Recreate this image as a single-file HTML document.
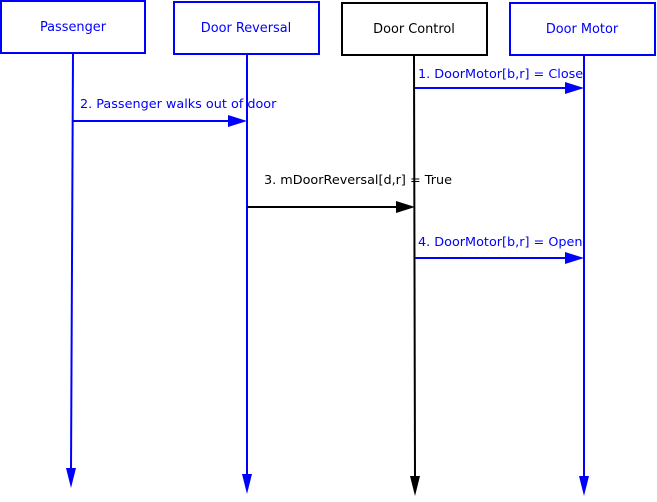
<!DOCTYPE html>
<html><head><style>body{margin:0;background:#fff}</style></head><body>
<svg width="657" height="497" xmlns="http://www.w3.org/2000/svg" font-family="DejaVu Sans, sans-serif">
<g fill="none" stroke-width="2">
<rect x="1" y="1" width="144" height="52" stroke="#0000ff"/>
<rect x="174" y="2" width="145" height="52" stroke="#0000ff"/>
<rect x="342" y="3" width="145" height="52" stroke="#000"/>
<rect x="510" y="3" width="145" height="52" stroke="#0000ff"/>
<line x1="73" y1="54" x2="71" y2="470" stroke="#0000ff"/>
<line x1="247" y1="55" x2="247" y2="476" stroke="#0000ff"/>
<line x1="414" y1="56" x2="415" y2="478" stroke="#000"/>
<line x1="584" y1="56" x2="584" y2="478" stroke="#0000ff"/>
<line x1="415" y1="88" x2="566" y2="88" stroke="#0000ff"/>
<line x1="73" y1="121" x2="230" y2="121" stroke="#0000ff"/>
<line x1="247" y1="207" x2="398" y2="207" stroke="#000"/>
<line x1="415" y1="258" x2="566" y2="258" stroke="#0000ff"/>
</g>
<g stroke="none">
<polygon points="66,468 76,468 71,488" fill="#0000ff"/>
<polygon points="242,474 252,474 247,494" fill="#0000ff"/>
<polygon points="410,476 420,476 415,496" fill="#000"/>
<polygon points="579,476 589,476 584,496" fill="#0000ff"/>
<polygon points="565,82 565,94 584,88" fill="#0000ff"/>
<polygon points="228,115 228,127 247,121" fill="#0000ff"/>
<polygon points="396,201 396,213 415,207" fill="#000"/>
<polygon points="565,252 565,264 584,258" fill="#0000ff"/>
</g>
<g font-size="12.9" text-anchor="middle">
<text x="73" y="31" fill="#0000ff">Passenger</text>
<text x="246" y="32" fill="#0000ff">Door Reversal</text>
<text x="414" y="33" fill="#000">Door Control</text>
<text x="582" y="33" fill="#0000ff">Door Motor</text>
</g>
<g font-size="12.8">
<text x="418" y="78" fill="#0000ff">1. DoorMotor[b,r] = Close</text>
<text x="80" y="108" fill="#0000ff">2. Passenger walks out of door</text>
<text x="264" y="184" fill="#000">3. mDoorReversal[d,r] = True</text>
<text x="418" y="246" fill="#0000ff">4. DoorMotor[b,r] = Open</text>
</g>
</svg>
</body></html>
